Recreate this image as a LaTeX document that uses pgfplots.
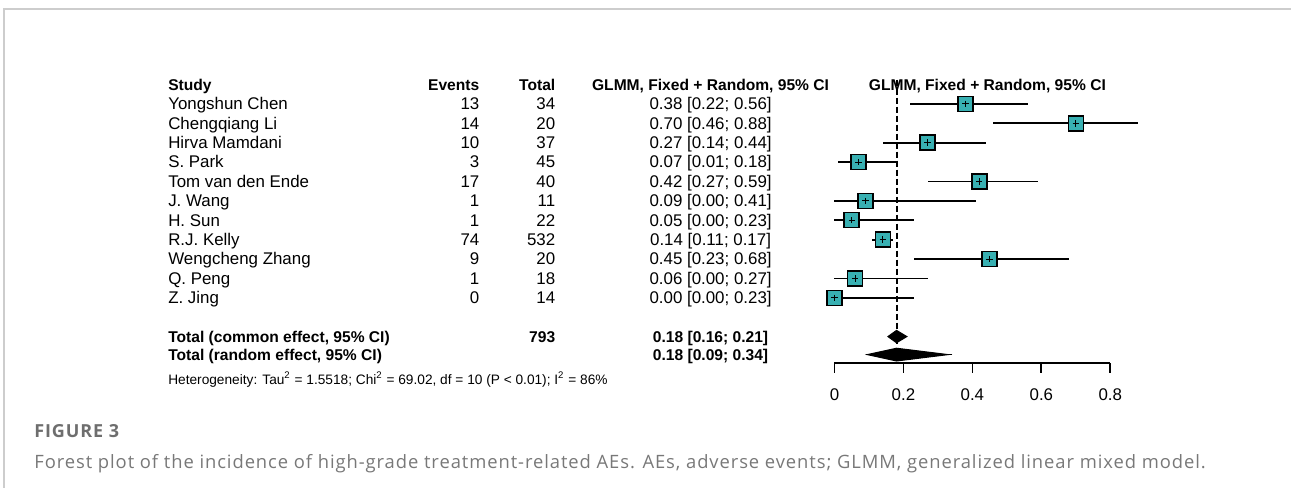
\documentclass[border=0pt]{standalone}
\usepackage{pgfplots}
\pgfplotsset{compat=1.18}
\usepackage{pgfplotstable}
\usepackage{fontspec}
\setmainfont{Liberation Sans}
\newfontfamily\capfont[LetterSpace=5]{Open Sans}
\definecolor{sq}{RGB}{56,176,178}
\definecolor{framec}{RGB}{205,205,205}
\definecolor{capc}{RGB}{120,120,120}
\definecolor{capf}{RGB}{110,110,110}

\pgfplotstableread{
k est em ep
-1 0.38 0.16 0.18
-2 0.70 0.24 0.18
-3 0.27 0.13 0.17
-4 0.07 0.06 0.11
-5 0.42 0.15 0.17
-6 0.09 0.09 0.32
-7 0.05 0.05 0.18
-8 0.14 0.03 0.03
-9 0.45 0.22 0.23
-10 0.06 0.06 0.21
-11 0.00 0.00 0.23
}\studies

\newcommand{\tf}{\fontsize{8.45pt}{9pt}\selectfont}
\newcommand{\bff}{\fontsize{7.8pt}{9pt}\selectfont\bfseries}
\tikzset{
  cL/.style={anchor=base west, yshift=-2.9pt, inner sep=0pt, font=\tf},
  cR/.style={anchor=base east, yshift=-2.9pt, inner sep=0pt, font=\tf},
  cC/.style={anchor=base, yshift=-2.9pt, inner sep=0pt, font=\tf},
}
\begin{document}
\begin{tikzpicture}
\begin{axis}[
  x=172.5pt, y=9.7pt,
  xmin=0, xmax=0.8, ymin=-14.35, ymax=0,
  clip=false,
  axis x line=bottom, axis y line=none,
  x axis line style={-, line width=0.9pt},
  xtick={0,0.2,0.4,0.6,0.8},
  xticklabels={0,0.2,0.4,0.6,0.8},
  tick align=outside,
  major tick length=5pt,
  xtick style={black, line width=0.9pt},
  xticklabel style={font=\tf, yshift=-4.3pt},
  ytick=\empty,
]
% bounding box and frame
\path (axis cs:-2.4203,4.36) rectangle (axis cs:1.3246,-20.79);
\draw[framec, line width=0.8pt] (axis cs:-2.4087,-20.79) -- (axis cs:-2.4087,3.9) -- (axis cs:1.3246,3.9);

% reference line
\addplot[black, line width=1pt, dash pattern=on 3pt off 1.5pt] coordinates {(0.18,0.25) (0.18,-13.4)};

% CIs and squares
\addplot[only marks, mark=square*, mark size=3.75pt,
  mark options={fill=sq, draw=black, line width=0.75pt},
  error bars/.cd, x dir=both, x explicit, error mark=none,
  error bar style={black, line width=0.9pt}]
  table[x=est, y=k, x error minus=em, x error plus=ep] {\studies};
\addplot[only marks, mark=+, mark size=1.6pt, mark options={black, line width=0.5pt}]
  table[x=est, y=k] {\studies};

% pooled estimates
\addplot[fill=black, draw=black, line width=0.5pt] coordinates {(0.155,-13) (0.18,-12.68) (0.21,-13) (0.18,-13.32)} -- cycle;
\addplot[black, line width=0.7pt] coordinates {(0.09,-13.93) (0.34,-13.93)};
\addplot[fill=black, draw=black, line width=0.5pt] coordinates {(0.095,-13.93) (0.18,-13.6) (0.33,-13.93) (0.18,-14.26)} -- cycle;

% headers
\node[cL, font=\bff] at (axis cs:-1.9333,0) {Study};
\node[cR, font=\bff] at (axis cs:-1.0290,0) {Events};
\node[cR, font=\bff] at (axis cs:-0.8087,0) {Total};
\node[cC, font=\bff] at (axis cs:-0.3594,0) {GLMM, Fixed + Random, 95\% CI};
\node[cC, font=\bff] at (axis cs:0.4435,0) {GLMM, Fixed + Random, 95\% CI};

% rows
\node[cL] at (axis cs:-1.9333,-1) {Yongshun Chen};
\node[cL] at (axis cs:-1.9333,-2) {Chengqiang Li};
\node[cL] at (axis cs:-1.9333,-3) {Hirva Mamdani};
\node[cL] at (axis cs:-1.9333,-4) {S. Park};
\node[cL] at (axis cs:-1.9333,-5) {Tom van den Ende};
\node[cL] at (axis cs:-1.9333,-6) {J. Wang};
\node[cL] at (axis cs:-1.9333,-7) {H. Sun};
\node[cL] at (axis cs:-1.9333,-8) {R.J. Kelly};
\node[cL] at (axis cs:-1.9333,-9) {Wengcheng Zhang};
\node[cL] at (axis cs:-1.9333,-10) {Q. Peng};
\node[cL] at (axis cs:-1.9333,-11) {Z. Jing};

\node[cR] at (axis cs:-1.0290,-1) {13};
\node[cR] at (axis cs:-1.0290,-2) {14};
\node[cR] at (axis cs:-1.0290,-3) {10};
\node[cR] at (axis cs:-1.0290,-4) {3};
\node[cR] at (axis cs:-1.0290,-5) {17};
\node[cR] at (axis cs:-1.0290,-6) {1};
\node[cR] at (axis cs:-1.0290,-7) {1};
\node[cR] at (axis cs:-1.0290,-8) {74};
\node[cR] at (axis cs:-1.0290,-9) {9};
\node[cR] at (axis cs:-1.0290,-10) {1};
\node[cR] at (axis cs:-1.0290,-11) {0};

\node[cR] at (axis cs:-0.8087,-1) {34};
\node[cR] at (axis cs:-0.8087,-2) {20};
\node[cR] at (axis cs:-0.8087,-3) {37};
\node[cR] at (axis cs:-0.8087,-4) {45};
\node[cR] at (axis cs:-0.8087,-5) {40};
\node[cR] at (axis cs:-0.8087,-6) {11};
\node[cR] at (axis cs:-0.8087,-7) {22};
\node[cR] at (axis cs:-0.8087,-8) {532};
\node[cR] at (axis cs:-0.8087,-9) {20};
\node[cR] at (axis cs:-0.8087,-10) {18};
\node[cR] at (axis cs:-0.8087,-11) {14};

\node[cC] at (axis cs:-0.3594,-1) {0.38 [0.22; 0.56]};
\node[cC] at (axis cs:-0.3594,-2) {0.70 [0.46; 0.88]};
\node[cC] at (axis cs:-0.3594,-3) {0.27 [0.14; 0.44]};
\node[cC] at (axis cs:-0.3594,-4) {0.07 [0.01; 0.18]};
\node[cC] at (axis cs:-0.3594,-5) {0.42 [0.27; 0.59]};
\node[cC] at (axis cs:-0.3594,-6) {0.09 [0.00; 0.41]};
\node[cC] at (axis cs:-0.3594,-7) {0.05 [0.00; 0.23]};
\node[cC] at (axis cs:-0.3594,-8) {0.14 [0.11; 0.17]};
\node[cC] at (axis cs:-0.3594,-9) {0.45 [0.23; 0.68]};
\node[cC] at (axis cs:-0.3594,-10) {0.06 [0.00; 0.27]};
\node[cC] at (axis cs:-0.3594,-11) {0.00 [0.00; 0.23]};

% totals
\node[cL, font=\bff] at (axis cs:-1.9333,-13) {Total (common effect, 95\% CI)};
\node[cR, font=\bff] at (axis cs:-0.8087,-13) {793};
\node[cC, font=\bff] at (axis cs:-0.3594,-13) {0.18 [0.16; 0.21]};
\node[cL, font=\bff] at (axis cs:-1.9333,-13.93) {Total (random effect, 95\% CI)};
\node[cC, font=\bff] at (axis cs:-0.3594,-13.93) {0.18 [0.09; 0.34]};
\node[cL, font=\fontsize{6.85pt}{7pt}\selectfont, yshift=-0.5pt] at (axis cs:-1.9333,-15.1) {Heterogeneity: Tau\textsuperscript{2} = 1.5518; Chi\textsuperscript{2} = 69.02, df = 10 (P < 0.01); I\textsuperscript{2} = 86\%};

% caption
\node[anchor=base west, inner sep=0pt, yshift=-3.2pt, text=capf, font=\capfont\fontsize{9pt}{10pt}\selectfont\bfseries] at (axis cs:-2.3217,-17.9) {FIGURE 3};
\node[anchor=base west, inner sep=0pt, yshift=-3.3pt, text=capc, font=\capfont\fontsize{9.2pt}{11pt}\selectfont] at (axis cs:-2.3217,-19.45) {Forest plot of the incidence of high-grade treatment-related AEs. AEs, adverse events; GLMM, generalized linear mixed model.};
\end{axis}
\end{tikzpicture}
\end{document}
